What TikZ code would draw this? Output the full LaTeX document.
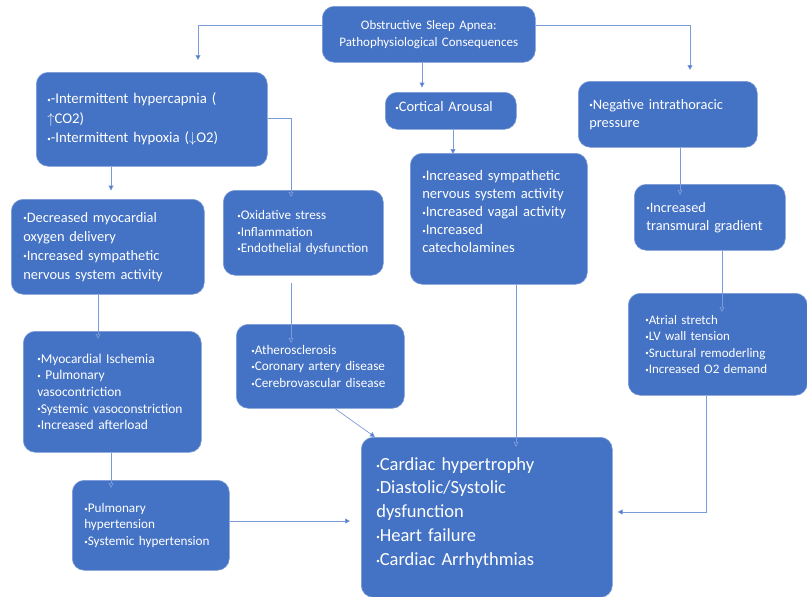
\documentclass[tikz,border=0pt]{standalone}
\usepackage{fontspec}
\setmainfont{Carlito}
\usetikzlibrary{arrows.meta}

\definecolor{osablue}{HTML}{4472C4}
\definecolor{osaline}{HTML}{7A9BDA}
\newcommand{\bl}{\raisebox{0.2ex}{\scriptsize\textbullet}}
\newcommand{\lift}[1]{\rule[-#1]{0pt}{0pt}}

\tikzset{
  box/.style={fill=osablue, draw=osablue!70!white, line width=0.6pt,
    rounded corners=12pt, text=white, align=left, anchor=north west,
    inner ysep=0pt},
  link/.style={draw=osaline, line width=0.7pt,
    -{Triangle[length=5pt,width=5pt,fill=osablue]}}
}

\begin{document}
\begin{tikzpicture}[x=1pt,y=-1pt]
\useasboundingbox (0,0) rectangle (807,597);

% top node
\node[box, minimum width=213pt, minimum height=56pt, text width=201pt,
  inner xsep=6pt, align=center, font=\fontsize{13}{17}\selectfont]
  (osa) at (322,6) {Obstructive Sleep Apnea:\\Pathophysiological Consequences};

% first row
\node[box, minimum width=231pt, minimum height=94pt, text width=209pt,
  inner xsep=11pt, font=\fontsize{14.8}{19.5}\selectfont]
  (hyp) at (36,72) {\bl-Intermittent hypercapnia (\\$\uparrow$CO2)\\\bl-Intermittent hypoxia ($\downarrow$O2)};
\node[box, minimum width=131pt, minimum height=37pt, text width=111pt,
  inner xsep=10pt, font=\fontsize{14.5}{15}\selectfont]
  (arousal) at (385,92) {\bl Cortical Arousal\lift{8pt}};
\node[box, minimum width=179pt, minimum height=66pt, text width=157pt,
  inner xsep=11pt, font=\fontsize{14.4}{18}\selectfont]
  (nip) at (578,81) {\bl Negative intrathoracic\\pressure};

% second row
\node[box, minimum width=193pt, minimum height=95pt, text width=169pt,
  inner xsep=12pt, font=\fontsize{14.4}{19}\selectfont]
  (myo) at (11,199) {\bl Decreased myocardial\\oxygen delivery\\\bl Increased sympathetic\\nervous system activity};
\node[box, minimum width=160pt, minimum height=85pt, text width=132pt,
  inner xsep=14pt, font=\fontsize{13.2}{16.5}\selectfont]
  (oxi) at (223,190) {\bl Oxidative stress\\\bl Inflammation\\\bl Endothelial dysfunction};
\node[box, minimum width=177pt, minimum height=131pt, text width=153pt,
  inner xsep=12pt, font=\fontsize{14.6}{18}\selectfont]
  (sns) at (410,153) {\bl Increased sympathetic\\nervous system activity\\\bl Increased vagal activity\\\bl Increased\\catecholamines\lift{14pt}};
\node[box, minimum width=151pt, minimum height=66pt, text width=127pt,
  inner xsep=12pt, font=\fontsize{14.3}{18}\selectfont]
  (trans) at (634,184) {\bl Increased\\transmural gradient};

% third row
\node[box, minimum width=178pt, minimum height=121pt, text width=150pt,
  inner xsep=14pt, font=\fontsize{13.5}{16.7}\selectfont]
  (isch) at (23,331) {\bl Myocardial Ischemia\\\bl\ Pulmonary\\vasocontriction\\\bl Systemic vasoconstriction\\\bl Increased afterload};
\node[box, minimum width=168pt, minimum height=84pt, text width=138pt,
  inner xsep=15pt, font=\fontsize{13.2}{16.5}\selectfont]
  (ath) at (236,324) {\bl Atherosclerosis\\\bl Coronary artery disease\\\bl Cerebrovascular disease};
\node[box, minimum width=179pt, minimum height=102pt, text width=145pt,
  inner xsep=17pt, font=\fontsize{13}{16.5}\selectfont]
  (atr) at (628,293) {\bl Atrial stretch\\\bl LV wall tension\\\bl Sructural remoderling\\\bl Increased O2 demand};

% bottom row
\node[box, minimum width=157pt, minimum height=90pt, text width=133pt,
  inner xsep=12pt, font=\fontsize{13.2}{16.5}\selectfont]
  (htn) at (72,480) {\bl Pulmonary\\hypertension\\\bl Systemic hypertension};
\node[box, minimum width=251pt, minimum height=160pt, text width=221pt,
  inner xsep=15pt, font=\fontsize{18.5}{23.8}\selectfont]
  (card) at (361,437) {\bl Cardiac hypertrophy\\\bl Diastolic/Systolic\\dysfunction\\\bl Heart failure\\\bl Cardiac Arrhythmias\lift{12pt}};

% connectors
\coordinate (hypin) at (198,60);
\coordinate (nipin) at (690,70);
\draw[link] (osa.west |- 0,25) -| (hypin);
\draw[link] (osa.east |- 0,25) -| (nipin);
\draw[link] (osa.south -| 422,0) -- ++(0,25);
\draw[link] (hyp.south -| 111,0) -- ++(0,24);
\draw[link] (hyp.east |- 0,118) -| ([yshift=-7pt]oxi.north -| 291,0);
\draw[link] (arousal.south -| 453,0) -- ([yshift=-1pt]sns.north -| 453,0);
\draw[link] (nip.south -| 680,0) -- ([yshift=-11pt]trans.north -| 680,0);
\draw[link] (myo.south -| 98,0) -- ([yshift=-8pt]isch.north -| 98,0);
\draw[link] (oxi.south -| 291,0) ++(0,7) -- ([yshift=-19pt]ath.north -| 291,0);
\draw[link] (trans.south -| 722,0) -- ([yshift=-19pt]atr.north -| 722,0);
\draw[link] (isch.south -| 111,0) -- ([yshift=-8pt]htn.north -| 111,0);
\draw[link] (ath.south -| 335,0) -- (375,437);
\draw[link] (sns.south -| 516,0) -- ([yshift=-10pt]card.north -| 516,0);
\draw[link] (htn.east |- 0,521) -- ([xshift=-11pt]card.west |- 0,521);
\coordinate (atrturn) at (706,512);
\draw[link] (atr.south -| atrturn) -- (atrturn) -- ([xshift=5pt]card.east |- atrturn);
\end{tikzpicture}
\end{document}
